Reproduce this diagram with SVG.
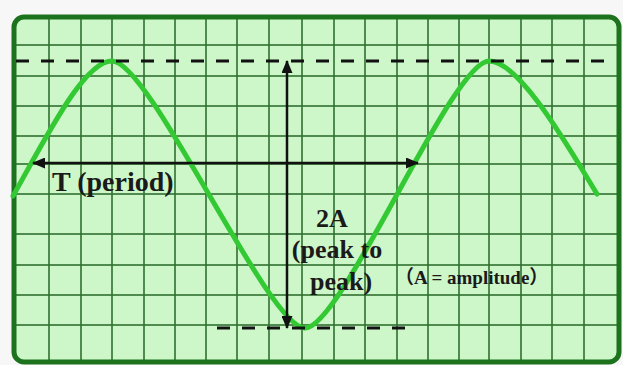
<svg xmlns="http://www.w3.org/2000/svg" width="623" height="365" viewBox="0 0 623 365">
  <defs>
    <marker id="ah" viewBox="0 0 13 11" refX="12" refY="5.5" markerWidth="13" markerHeight="11" markerUnits="userSpaceOnUse" orient="auto-start-reverse">
      <path d="M0,0 L13,5.5 L0,11 Z" fill="#111"/>
    </marker>
  </defs>
  <style>
    .grid line { stroke: #2f6f2f; stroke-width: 2; stroke-opacity: 0.8; }
    .dash { stroke: #111; stroke-width: 3; stroke-dasharray: 13 12; fill: none; }
    .wave { stroke: #33c933; stroke-width: 5; fill: none; stroke-linecap: round; }
    .arrow { stroke: #111; stroke-width: 2.5; fill: none; marker-start: url(#ah); marker-end: url(#ah); }
    .lbl { font-family: "Liberation Serif", "Times New Roman", serif; font-weight: bold; fill: #1a1a1a; }
    .big { font-size: 26px; }
    .small { font-family: "Liberation Serif", "Noto Sans CJK SC", serif; font-size: 19px; }
  </style>
  <rect x="0" y="0" width="623" height="365" fill="#f7f7f7"/>
  <g id="screen">
    <rect x="14" y="17" width="605" height="345" rx="10" ry="10" fill="#cdf6c9"/>
    <g class="grid">
      <line x1="49" y1="17" x2="49" y2="362"/>
      <line x1="81" y1="17" x2="81" y2="362"/>
      <line x1="112" y1="17" x2="112" y2="362"/>
      <line x1="144" y1="17" x2="144" y2="362"/>
      <line x1="175" y1="17" x2="175" y2="362"/>
      <line x1="206" y1="17" x2="206" y2="362"/>
      <line x1="237" y1="17" x2="237" y2="362"/>
      <line x1="269" y1="17" x2="269" y2="362"/>
      <line x1="302" y1="17" x2="302" y2="362"/>
      <line x1="334" y1="17" x2="334" y2="362"/>
      <line x1="365" y1="17" x2="365" y2="362"/>
      <line x1="397" y1="17" x2="397" y2="362"/>
      <line x1="428" y1="17" x2="428" y2="362"/>
      <line x1="459" y1="17" x2="459" y2="362"/>
      <line x1="489" y1="17" x2="489" y2="362"/>
      <line x1="521" y1="17" x2="521" y2="362"/>
      <line x1="552" y1="17" x2="552" y2="362"/>
      <line x1="584" y1="17" x2="584" y2="362"/>
      <line x1="14" y1="45" x2="619" y2="45"/>
      <line x1="14" y1="76" x2="619" y2="76"/>
      <line x1="14" y1="106" x2="619" y2="106"/>
      <line x1="14" y1="136" x2="619" y2="136"/>
      <line x1="14" y1="164" x2="619" y2="164"/>
      <line x1="14" y1="194" x2="619" y2="194"/>
      <line x1="14" y1="234" x2="619" y2="234"/>
      <line x1="14" y1="265" x2="619" y2="265"/>
      <line x1="14" y1="295" x2="619" y2="295"/>
      <line x1="14" y1="325" x2="619" y2="325"/>
    </g>
    <rect x="14" y="17" width="605" height="345" rx="10" ry="10" fill="none" stroke="#1d721d" stroke-width="5"/>
  </g>
  <g id="wave">
    <path class="wave" d="M13,196 C50,130 85,61 112,61 C150,61 268,328 305,328 C342,328 452,61 489,61 C520,61 570,150 597,194"/>
  </g>
  <g id="guides">
    <line class="dash" x1="16" y1="61" x2="612" y2="61"/>
    <line class="dash" x1="217" y1="328" x2="408" y2="328"/>
  </g>
  <g id="connectors">
    <line class="arrow" x1="33" y1="163" x2="418" y2="163"/>
    <line class="arrow" x1="287" y1="61" x2="287" y2="328"/>
  </g>
  <g id="labels">
    <text class="lbl big" x="52" y="191" style="font-size:28px">T (period)</text>
    <text class="lbl big" x="332" y="227" text-anchor="middle">2A</text>
    <text class="lbl big" x="337" y="258" text-anchor="middle">(peak to</text>
    <text class="lbl big" x="341" y="290" text-anchor="middle">peak)</text>
    <text class="lbl small" x="395" y="284">（A = amplitude）</text>
  </g>
</svg>
